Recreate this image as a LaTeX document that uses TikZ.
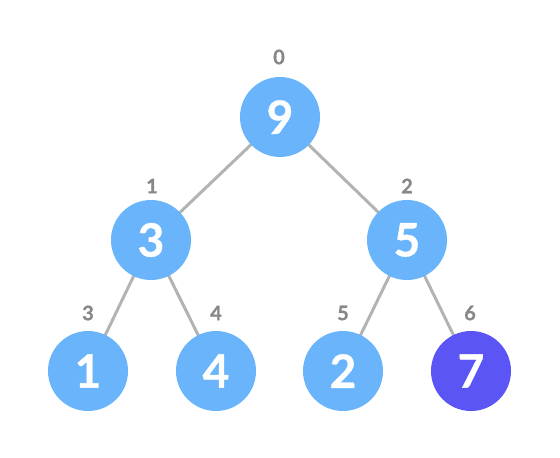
\documentclass[tikz,border=0pt]{standalone}
\usepackage{fontspec}
\setmainfont{Lato}[BoldFeatures={FakeBold=0.8}]
\usetikzlibrary{backgrounds}
\begin{document}
\begin{tikzpicture}[x=1pt,y=-1pt,
  heapnode/.style={circle,fill=nodeblue,minimum size=80pt,inner sep=0pt,text=white,font=\fontsize{46}{46}\selectfont\bfseries},
  lastnode/.style={heapnode,fill=nodeviolet},
  idx/.style={text=idxgray,font=\fontsize{20}{20}\selectfont\bfseries,inner sep=0pt},
  edge/.style={draw=edgegray,line width=3pt}]
\definecolor{nodeblue}{HTML}{6AB4FC}
\definecolor{nodeviolet}{HTML}{5B55F5}
\definecolor{idxgray}{HTML}{888888}
\definecolor{edgegray}{HTML}{B3B3B3}
\useasboundingbox (0,0) rectangle (560,458);
\node[heapnode] (n0) at (280,117) {9};
\node[heapnode] (n1) at (151,240) {3};
\node[heapnode] (n2) at (407,240) {5};
\node[heapnode] (n3) at (88,371) {1};
\node[heapnode] (n4) at (216,371) {4};
\node[heapnode] (n5) at (343,371) {2};
\node[lastnode] (n6) at (471,371) {7};
\node[idx] (i0) at (279,57) {0};
\node[idx] (i1) at (152,186) {1};
\node[idx] (i2) at (407,186) {2};
\node[idx] (i3) at (88,313) {3};
\node[idx] (i4) at (216,313) {4};
\node[idx] (i5) at (343,313) {5};
\node[idx] (i6) at (470,313) {6};
\begin{scope}[on background layer]
\draw[edge] (n0.center) -- (n1.center);
\draw[edge] (n0.center) -- (n2.center);
\draw[edge] (n1.center) -- (n3.center);
\draw[edge] (n1.center) -- (n4.center);
\draw[edge] (n2.center) -- (n5.center);
\draw[edge] (n2.center) -- (n6.center);
\end{scope}
\end{tikzpicture}
\end{document}
